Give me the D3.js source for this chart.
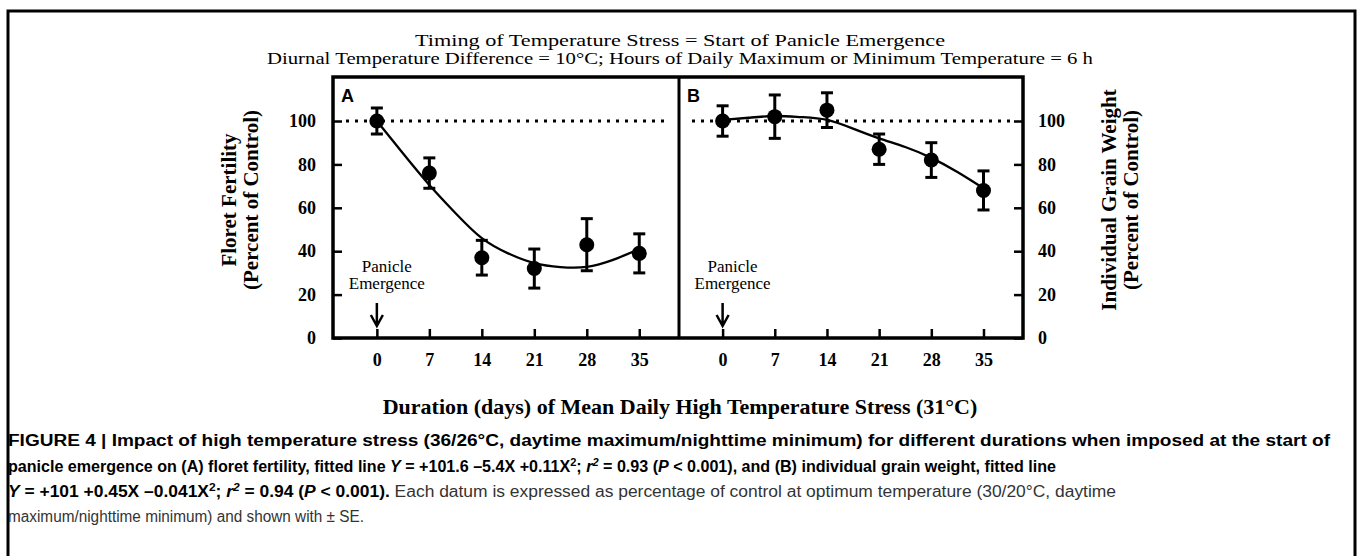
<!DOCTYPE html>
<html>
<head>
<meta charset="utf-8">
<script src="https://cdn.jsdelivr.net/npm/d3@7"></script>
<style>
  body { margin: 0; background: #fff; }
  svg { display: block; }
  .serif { font-family: "Liberation Serif", "Times New Roman", serif; }
  .tick text { font-family: "Liberation Serif", serif; font-weight: bold; font-size: 18px; fill: #000; }
  .tick line { stroke: #000; stroke-width: 2.5; }
</style>
</head>
<body>
<div id="chart"></div>
<script>
// data
var days = [0, 7, 14, 21, 28, 35];
var fertility = [100, 76, 37, 32, 43, 39];
var fertilitySE = [6, 7, 8, 9, 12, 9];
var grainWeight = [100, 102, 105, 87, 82, 68];
var grainWeightSE = [7, 10, 8, 7, 8, 9];

// fitted lines
var fitDays = [0, 3.5, 7, 10.5, 14, 17.5, 21, 24.5, 28, 31.5, 35];
var fertilityFit = [100, 85, 70.5, 57.5, 46, 39, 34.5, 32.7, 32.8, 36, 41];
var grainWeightFit = [100.5, 101.5, 102.3, 101.8, 100.5, 96.5, 92, 88, 83, 76.5, 69];

var yTicks = [0, 20, 40, 60, 80, 100];

var title1 = "Timing of Temperature Stress = Start of Panicle Emergence";
var title2 = "Diurnal Temperature Difference = 10\u00B0C; Hours of Daily Maximum or Minimum Temperature = 6 h";
var xTitle = "Duration (days) of Mean Daily High Temperature Stress (31\u00B0C)";

var W = 1357, H = 556;
var svg = d3.select("#chart").append("svg")
  .attr("width", W)
  .attr("height", H);

// outer box, runs off the bottom of the page
svg.append("rect")
  .attr("x", 8).attr("y", 11)
  .attr("width", 1347).attr("height", 600)
  .attr("fill", "none").attr("stroke", "#000").attr("stroke-width", 3);

// titles
svg.append("text").attr("class", "serif")
  .attr("x", 680).attr("y", 46)
  .attr("text-anchor", "middle").style("font-size", "17px")
  .attr("textLength", 530).attr("lengthAdjust", "spacingAndGlyphs")
  .text(title1);
svg.append("text").attr("class", "serif")
  .attr("x", 680).attr("y", 64)
  .attr("text-anchor", "middle").style("font-size", "17px")
  .attr("textLength", 826).attr("lengthAdjust", "spacingAndGlyphs")
  .text(title2);

// plot area
var pLeft = 333, pMid = 679, pRight = 1023, pTop = 77, pBottom = 338;

var y = d3.scaleLinear().domain([0, 100]).range([pBottom, 121]);
var xA = d3.scaleLinear().domain([-5.85, 40.3]).range([pLeft, pMid]);
var xB = d3.scaleLinear().domain([-5.85, 40.3]).range([pMid, pRight]);

function panel(x, vals, se, fit, letter) {
  var g = svg.append("g");

  // control level
  g.append("line")
    .attr("x1", x.range()[0] + 13).attr("x2", x.range()[1] - 12)
    .attr("y1", y(100)).attr("y2", y(100))
    .attr("stroke", "#000").attr("stroke-width", 3)
    .attr("stroke-dasharray", "3,6");

  // x axis, ticks pointing in
  var ax = g.append("g")
    .attr("transform", "translate(0," + pBottom + ")")
    .call(d3.axisBottom(x).tickValues(days).tickSizeInner(-9).tickSizeOuter(0).tickPadding(15));
  ax.select(".domain").remove();

  // fitted curve
  var line = d3.line()
    .x(function(d) { return x(d[0]); })
    .y(function(d) { return y(d[1]); })
    .curve(d3.curveNatural);
  g.append("path")
    .attr("d", line(d3.zip(fitDays, fit)))
    .attr("fill", "none").attr("stroke", "#000").attr("stroke-width", 2.3);

  // error bars
  var pts = d3.zip(days, vals, se);
  var eb = g.selectAll(".eb").data(pts).enter().append("g");
  eb.append("line")
    .attr("x1", function(d) { return x(d[0]); })
    .attr("x2", function(d) { return x(d[0]); })
    .attr("y1", function(d) { return y(d[1] - d[2]); })
    .attr("y2", function(d) { return y(d[1] + d[2]); })
    .attr("stroke", "#000").attr("stroke-width", 3);
  [-1, 1].forEach(function(s) {
    eb.append("line")
      .attr("x1", function(d) { return x(d[0]) - 6; })
      .attr("x2", function(d) { return x(d[0]) + 6; })
      .attr("y1", function(d) { return y(d[1] + s * d[2]); })
      .attr("y2", function(d) { return y(d[1] + s * d[2]); })
      .attr("stroke", "#000").attr("stroke-width", 3);
  });
  g.selectAll(".pt").data(pts).enter().append("circle")
    .attr("cx", function(d) { return x(d[0]); })
    .attr("cy", function(d) { return y(d[1]); })
    .attr("r", 7.5)
    .attr("fill", "#000");

  // panicle emergence arrow
  var x0 = x(0);
  g.append("path")
    .attr("d", "M" + x0 + ",303V326M" + (x0 - 6) + ",315L" + x0 + ",326L" + (x0 + 6) + ",315")
    .attr("fill", "none").attr("stroke", "#000").attr("stroke-width", 2.5);
  g.append("text").attr("class", "serif")
    .attr("x", x0 + 10).attr("y", 272)
    .attr("text-anchor", "middle").style("font-size", "17px")
    .text("Panicle");
  g.append("text").attr("class", "serif")
    .attr("x", x0 + 10).attr("y", 289)
    .attr("text-anchor", "middle").style("font-size", "17px")
    .text("Emergence");

  // panel letter
  g.append("text")
    .attr("x", x.range()[0] + 8).attr("y", 102)
    .style("font-family", "'Liberation Sans', Arial, sans-serif")
    .style("font-weight", "bold").style("font-size", "18px")
    .text(letter);
}

panel(xA, fertility, fertilitySE, fertilityFit, "A");
panel(xB, grainWeight, grainWeightSE, grainWeightFit, "B");

// y axes (left for A, right for B)
var ayl = svg.append("g").attr("transform", "translate(" + pLeft + ",0)")
  .call(d3.axisLeft(y).tickValues(yTicks).tickSizeInner(-9).tickSizeOuter(0).tickPadding(17));
ayl.select(".domain").remove();
var ayr = svg.append("g").attr("transform", "translate(" + pRight + ",0)")
  .call(d3.axisRight(y).tickValues(yTicks).tickSizeInner(-9).tickSizeOuter(0).tickPadding(15));
ayr.select(".domain").remove();

// frame
svg.append("rect")
  .attr("x", pLeft).attr("y", pTop)
  .attr("width", pRight - pLeft).attr("height", pBottom - pTop)
  .attr("fill", "none").attr("stroke", "#000").attr("stroke-width", 3.5);
svg.append("line")
  .attr("x1", pMid).attr("x2", pMid).attr("y1", pTop).attr("y2", pBottom)
  .attr("stroke", "#000").attr("stroke-width", 3);

// axis titles
function vlabel(cx, cy, txt) {
  svg.append("text").attr("class", "serif")
    .attr("transform", "translate(" + cx + "," + cy + ") rotate(-90)")
    .attr("text-anchor", "middle")
    .style("font-size", "21px").style("font-weight", "bold")
    .text(txt);
}
vlabel(236, 200, "Floret Fertility");
vlabel(258, 200, "(Percent of Control)");
vlabel(1116, 200, "Individual Grain Weight");
vlabel(1138, 200, "(Percent of Control)");

svg.append("text").attr("class", "serif")
  .attr("x", 680).attr("y", 414)
  .attr("text-anchor", "middle")
  .style("font-size", "22px").style("font-weight", "bold")
  .text(xTitle);

// caption
var capLines = [
  [["FIGURE 4 | Impact of high temperature stress (36/26\u00B0C, daytime maximum/nighttime minimum) for different durations when imposed at the start of", "b"]],
  [["panicle emergence on (A) floret fertility, fitted line ", "b"], ["Y", "bi"], [" = +101.6 \u20135.4X +0.11X", "b"], ["2", "bs"], ["; ", "b"], ["r", "bi"], ["2", "bis"], [" = 0.93 (", "b"], ["P", "bi"], [" < 0.001), and (B) individual grain weight, fitted line", "b"]],
  [["Y", "bi"], [" = +101 +0.45X \u20130.041X", "b"], ["2", "bs"], ["; ", "b"], ["r", "bi"], ["2", "bis"], [" = 0.94 (", "b"], ["P", "bi"], [" < 0.001).", "b"], [" Each datum is expressed as percentage of control at optimum temperature (30/20\u00B0C, daytime", ""]],
  [["maximum/nighttime minimum) and shown with \u00B1 SE.", ""]]
];
var capY = [446, 472, 497, 522];
var capWidth = [1322, 1048, 1108, 356];

capLines.forEach(function(segs, i) {
  var t = svg.append("text")
    .attr("x", 8).attr("y", capY[i])
    .style("font-family", "'Liberation Sans', Arial, sans-serif")
    .style("font-size", "16px")
    .attr("textLength", capWidth[i]).attr("lengthAdjust", "spacingAndGlyphs");
  var shift = 0;
  segs.forEach(function(s) {
    var sp = t.append("tspan").text(s[0]);
    if (s[1].indexOf("b") >= 0) sp.style("font-weight", "bold").attr("fill", "#000");
    else sp.attr("fill", "#333");
    if (s[1].indexOf("i") >= 0) sp.style("font-style", "italic");
    if (s[1].indexOf("s") >= 0) {
      sp.style("font-size", "11px").attr("dy", -6);
      shift = 6;
    } else if (shift) {
      sp.attr("dy", shift);
      shift = 0;
    }
  });
});
</script>
</body>
</html>
